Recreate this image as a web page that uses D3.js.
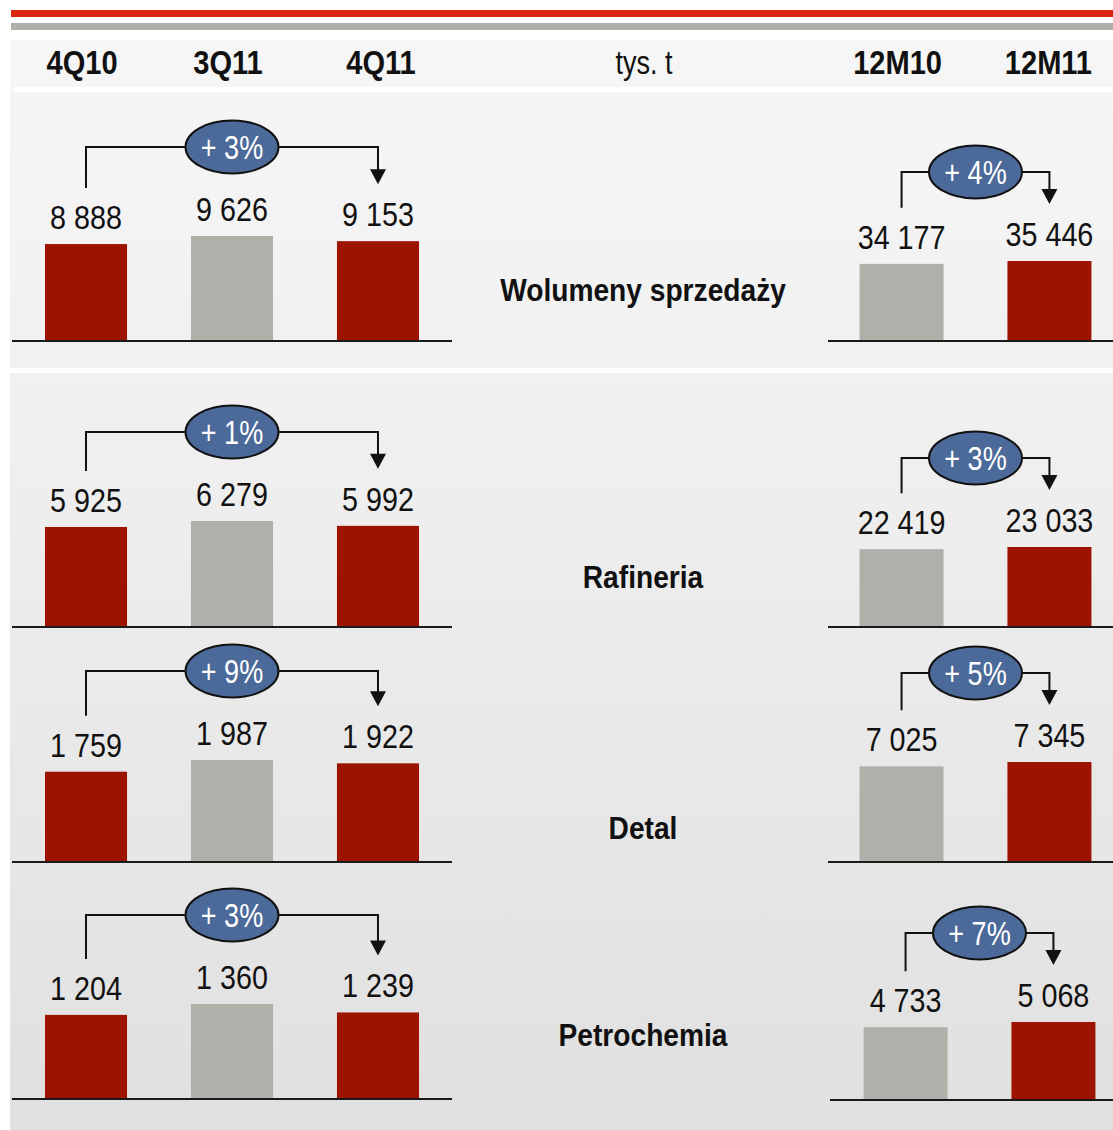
<!DOCTYPE html>
<html lang="pl">
<head>
<meta charset="utf-8">
<title>Wolumeny sprzedaży</title>
<script src="https://cdn.jsdelivr.net/npm/d3@7"></script>
<style>
  body { margin: 0; background: #fff; }
  svg text { font-family: "Liberation Sans", Arial, sans-serif; }
  .head { font-size: 33px; font-weight: bold; fill: #111; text-anchor: middle; }
  .unit { font-size: 33px; fill: #111; text-anchor: middle; }
  .cat { font-size: 32px; font-weight: bold; fill: #111; text-anchor: middle; }
  .val { font-size: 33px; fill: #111; text-anchor: middle; }
  .chg { font-size: 33px; fill: #fff; text-anchor: middle; }
</style>
</head>
<body>
<svg id="chart" width="1113" height="1130"></svg>
<script>
// data
var rows = ["Wolumeny sprzedaży", "Rafineria", "Detal", "Petrochemia"];
var quarters = ["4Q10", "3Q11", "4Q11"];
var years = ["12M10", "12M11"];
var quarterValues = [
  [8888, 9626, 9153],
  [5925, 6279, 5992],
  [1759, 1987, 1922],
  [1204, 1360, 1239]
];
var yearValues = [
  [34177, 35446],
  [22419, 23033],
  [7025, 7345],
  [4733, 5068]
];
var quarterChange = ["+ 3%", "+ 1%", "+ 9%", "+ 3%"];
var yearChange = ["+ 4%", "+ 3%", "+ 5%", "+ 7%"];
var unitLabel = "tys. t";

// layout
var red = "#9c1300", gray = "#b0b0aa", blue = "#4c6a99";
var quarterColors = [red, gray, red];
var yearColors = [gray, red];
var baseY = [341, 627, 862, 1099];
var baseYRight = [341, 627, 862, 1100];
var maxHLeft = [105, 106, 102, 95];
var maxHRight = [80, 80, 100, 78];
var catY = [301, 588, 839, 1046];
var rightShift = [0, 0, 0, 4];
var headDxQ = [-4, -4, 3], headDxY = [-4, -1];
var narrow = 0.82;     // condensed look of the original font
var narrowVal = 0.87;
var narrowBold = 0.88;

var fmt = d3.formatLocale({ decimal: ",", thousands: " ", grouping: [3], currency: ["", ""] }).format(",d");

var svg = d3.select("#chart");

// place a text at (x, y) squeezed horizontally
function at(x, y, k) { return "translate(" + x + "," + y + ") scale(" + (k || narrow) + ",1)"; }

// background
var defs = svg.append("defs");
var grad = defs.append("linearGradient").attr("id", "bg")
  .attr("x1", 0).attr("y1", 0).attr("x2", 0).attr("y2", 1);
grad.append("stop").attr("offset", 0).attr("stop-color", "#f6f6f6");
grad.append("stop").attr("offset", 0.3).attr("stop-color", "#f1f1f1");
grad.append("stop").attr("offset", 1).attr("stop-color", "#e0e0e0");

svg.append("rect").attr("x", 10).attr("y", 40).attr("width", 1103).attr("height", 1090).attr("fill", "url(#bg)");
svg.append("rect").attr("x", 14).attr("y", 87).attr("width", 1099).attr("height", 5).attr("fill", "#fff");
svg.append("rect").attr("x", 10).attr("y", 368).attr("width", 1103).attr("height", 5).attr("fill", "#fff");

// top stripes
svg.append("rect").attr("x", 11).attr("y", 10).attr("width", 1102).attr("height", 7).attr("fill", "#d92410");
svg.append("rect").attr("x", 11).attr("y", 23).attr("width", 1102).attr("height", 7).attr("fill", "#b0b0aa");

// x scales
var xLeft = d3.scaleBand().domain(quarters).range([12, 452]).paddingInner(0.438).paddingOuter(0.226);
var xRightBase = d3.scaleBand().domain(years).range([830, 1121]).paddingInner(0.432).paddingOuter(0.2);

// header
svg.selectAll(".head-q").data(quarters).enter().append("text")
  .attr("class", "head")
  .attr("transform", function(d, i) { return at(xLeft(d) + xLeft.bandwidth() / 2 + headDxQ[i], 74, narrowBold); })
  .text(function(d) { return d; });
svg.selectAll(".head-y").data(years).enter().append("text")
  .attr("class", "head")
  .attr("transform", function(d, i) { return at(xRightBase(d) + xRightBase.bandwidth() / 2 + headDxY[i], 74, narrowBold); })
  .text(function(d) { return d; });
svg.append("text").attr("class", "unit").attr("transform", at(644, 74)).text(unitLabel);

// one small group of bars with a change bracket
function drawGroup(g, cats, vals, colors, x, base, maxH, change, x0, x1) {
  var y = d3.scaleLinear().domain([0, d3.max(vals)]).range([base, base - maxH]);

  g.selectAll("rect.bar").data(vals).enter().append("rect")
    .attr("class", "bar")
    .attr("x", function(d, i) { return x(cats[i]); })
    .attr("width", x.bandwidth())
    .attr("y", function(d) { return y(d); })
    .attr("height", function(d) { return base - y(d); })
    .attr("fill", function(d, i) { return colors[i]; });

  g.append("line").attr("x1", x0).attr("x2", x1).attr("y1", base).attr("y2", base)
    .attr("stroke", "#1a1a1a").attr("stroke-width", 2);

  g.selectAll("text.val").data(vals).enter().append("text")
    .attr("class", "val")
    .attr("transform", function(d, i) { return at(x(cats[i]) + x.bandwidth() / 2, y(d) - 15, narrowVal); })
    .text(function(d) { return fmt(d); });

  // bracket
  var n = vals.length;
  var cx0 = x(cats[0]) + x.bandwidth() / 2;
  var cx1 = x(cats[n - 1]) + x.bandwidth() / 2;
  var top0 = y(vals[0]) - 15 - 24;
  var top1 = y(vals[n - 1]) - 15 - 24;
  var topY = y(d3.max(vals)) - 15 - 24 - 50;
  var tip = top1 - 18;

  g.append("path")
    .attr("d", "M" + cx0 + "," + (top0 - 17) + "V" + topY + "H" + cx1 + "V" + (tip - 12))
    .attr("fill", "none").attr("stroke", "#111").attr("stroke-width", 2);
  g.append("path")
    .attr("d", "M" + (cx1 - 8) + "," + (tip - 15) + "L" + (cx1 + 8) + "," + (tip - 15) + "L" + cx1 + "," + tip + "Z")
    .attr("fill", "#111");

  var mx = (cx0 + cx1) / 2;
  g.append("ellipse").attr("cx", mx).attr("cy", topY).attr("rx", 46.5).attr("ry", 26.5)
    .attr("fill", blue).attr("stroke", "#111").attr("stroke-width", 2);
  g.append("text").attr("class", "chg").attr("transform", at(mx, topY + 12)).text(change);
}

rows.forEach(function(r, i) {
  drawGroup(svg.append("g"), quarters, quarterValues[i], quarterColors, xLeft,
    baseY[i], maxHLeft[i], quarterChange[i], 12, 452);

  var s = rightShift[i];
  var xr = xRightBase.copy().range([830 + s, 1121 + s]);
  drawGroup(svg.append("g"), years, yearValues[i], yearColors, xr,
    baseYRight[i], maxHRight[i], yearChange[i], 828 + (s ? 2 : 0), 1113);

  svg.append("text").attr("class", "cat").attr("transform", at(643, catY[i], narrowBold)).text(r);
});
</script>
</body>
</html>
